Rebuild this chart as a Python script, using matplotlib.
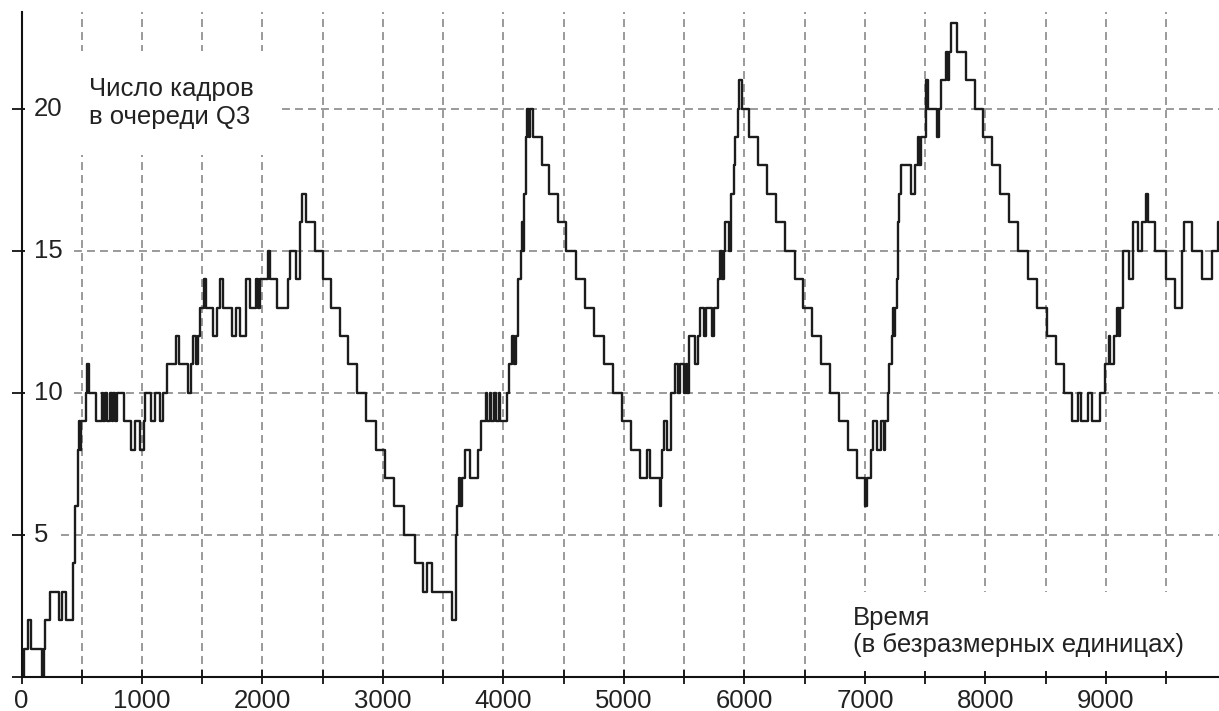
import matplotlib.pyplot as plt

plt.rcParams['font.family'] = ['Liberation Sans', 'DejaVu Sans']

# moments (time units) where the queue length changes, and the new length
t_change = [0, 20, 56, 82, 168, 185, 196, 236, 308, 336, 370, 426, 448, 468, 476, 484, 496,
            532, 544, 560, 622, 664, 678, 692, 706, 734, 748, 762, 776, 796, 852, 910, 938,
            986, 1014, 1028, 1078, 1104, 1148, 1176, 1210, 1280, 1308, 1378, 1406, 1420, 1448,
            1468, 1484, 1514, 1532, 1586, 1625, 1647, 1674, 1751, 1779, 1812, 1862, 1895, 1950,
            1962, 1978, 2047, 2061, 2121, 2212, 2226, 2281, 2309, 2331, 2364, 2433, 2502, 2571,
            2640, 2709, 2784, 2861, 2938, 3013, 3090, 3175, 3263, 3328, 3364, 3410, 3574, 3609,
            3615, 3628, 3640, 3652, 3677, 3718, 3792, 3813, 3854, 3866, 3888, 3900, 3922, 3936,
            3960, 3975, 4031, 4045, 4072, 4086, 4100, 4119, 4121, 4146, 4155, 4160, 4168, 4173,
            4189, 4195, 4210, 4222, 4244, 4318, 4380, 4454, 4522, 4598, 4680, 4754, 4835, 4912,
            4986, 5061, 5132, 5188, 5215, 5298, 5305, 5317, 5331, 5359, 5392, 5420, 5447, 5469,
            5497, 5511, 5525, 5538, 5593, 5613, 5629, 5662, 5684, 5731, 5751, 5778, 5800, 5815,
            5828, 5842, 5869, 5889, 5911, 5925, 5944, 5952, 5980, 6035, 6110, 6187, 6261, 6339,
            6416, 6488, 6560, 6634, 6709, 6781, 6856, 6931, 7000, 7017, 7050, 7069, 7097, 7133,
            7161, 7169, 7188, 7202, 7224, 7235, 7242, 7252, 7262, 7271, 7278, 7285, 7299, 7382,
            7418, 7440, 7452, 7466, 7507, 7520, 7596, 7612, 7632, 7673, 7685, 7701, 7715, 7762,
            7839, 7909, 7978, 8055, 8120, 8195, 8274, 8351, 8424, 8508, 8585, 8649, 8717, 8768,
            8790, 8853, 8881, 8951, 8988, 9022, 9035, 9064, 9092, 9106, 9120, 9140, 9190, 9227,
            9262, 9296, 9330, 9345, 9410, 9500, 9570, 9628, 9645, 9712, 9795, 9880, 9932]
frames = [0, 1, 2, 1, 0, 1, 2, 3, 2, 3, 2, 4, 6, 8, 9, 8, 9,
          10, 11, 10, 9, 10, 9, 10, 9, 10, 9, 10, 9, 10, 9, 8, 9,
          8, 9, 10, 9, 10, 9, 10, 11, 12, 11, 10, 11, 12, 11,
          12, 13, 14, 13, 12, 13, 14, 13, 12, 13, 12, 14, 13, 14,
          13, 14, 15, 14, 13, 14, 15, 14, 16, 17, 16, 15, 14, 13,
          12, 11, 10, 9, 8, 7, 6, 5, 4, 3, 4, 3, 2, 5,
          6, 7, 6, 7, 8, 7, 8, 9, 10, 9, 10, 9, 10, 9,
          10, 9, 10, 11, 12, 11, 12, 13, 14, 15, 16, 15, 16, 17,
          19, 20, 19, 20, 19, 18, 17, 16, 15, 14, 13, 12, 11, 10,
          9, 8, 7, 8, 7, 6, 7, 8, 9, 8, 10, 11, 10, 11,
          10, 11, 10, 12, 11, 12, 13, 12, 13, 12, 13, 14, 15, 14,
          15, 16, 15, 17, 18, 19, 20, 21, 20, 19, 18, 17, 16, 15,
          14, 13, 12, 11, 10, 9, 8, 7, 6, 7, 8, 9, 8, 9,
          8, 9, 10, 11, 12, 13, 12, 13, 14, 15, 16, 17, 18, 17,
          18, 19, 18, 19, 21, 20, 19, 20, 21, 22, 21, 22, 23, 22,
          21, 20, 19, 18, 17, 16, 15, 14, 13, 12, 11, 10, 9, 10,
          9, 10, 9, 10, 11, 12, 11, 12, 13, 12, 13, 15, 14, 16,
          15, 16, 17, 16, 15, 14, 13, 15, 16, 15, 14, 15, 16]
t_end = 9938

x_ticks = list(range(0, 10000, 500))
x_labels = [str(v) if v % 1000 == 0 else '' for v in x_ticks]
y_ticks = [0, 5, 10, 15, 20]
y_labels = ['', '5', '10', '15', '20']

title_text = 'Число кадров\nв очереди Q3'
xlabel_text = 'Время\n(в безразмерных единицах)'

fs = 18.5

fig = plt.figure(figsize=(12.19, 7.11), dpi=100)
ax = fig.add_axes([21.5 / 1219, 34 / 711, 1 - 21.5 / 1219, 665 / 711])

ax.step(t_change + [t_end], frames + [frames[-1]], where='post',
        color='#1c1c1c', lw=1.7, zorder=3)

ax.set_xlim(0, t_end)
ax.set_ylim(0, 23.4)

for s in ['top', 'right']:
    ax.spines[s].set_visible(False)
for s in ['left', 'bottom']:
    ax.spines[s].set_linewidth(1.5)
    ax.spines[s].set_color('#111111')
    ax.spines[s].set_zorder(4)

ax.set_xticks(x_ticks)
ax.set_xticklabels(x_labels, fontsize=fs, color='#222222')
ax.set_yticks(y_ticks)
ax.set_yticklabels([])
ax.tick_params(axis='x', direction='inout', length=9.5, width=1.3, pad=4, color='#111111')
ax.tick_params(axis='y', direction='inout', length=14, width=1.3, color='#111111')

# y labels sit to the right of the axis line
ytr = ax.get_yaxis_transform()
for v, lab in zip(y_ticks, y_labels):
    if lab:
        ax.text(0.0104, v, lab, transform=ytr, ha='left', va='center', fontsize=fs,
                color='#222222', zorder=2,
                bbox=dict(boxstyle='square,pad=0.35', facecolor='white', edgecolor='none'))

ax.set_axisbelow(True)
ax.grid(True, color='#929292', lw=1.3, linestyle=(0, (4.4, 2.8)))

ax.text(560, 20.2, title_text, ha='left', va='center', fontsize=fs, color='#222222',
        linespacing=1.2, zorder=2,
        bbox=dict(boxstyle='square,pad=1.0', facecolor='white', edgecolor='none'))
ax.text(6900, 1.6, xlabel_text, ha='left', va='center', fontsize=fs, color='#222222',
        linespacing=1.15, zorder=2,
        bbox=dict(boxstyle='square,pad=0.55', facecolor='white', edgecolor='none'))

fig.savefig('out.png', dpi=100)
